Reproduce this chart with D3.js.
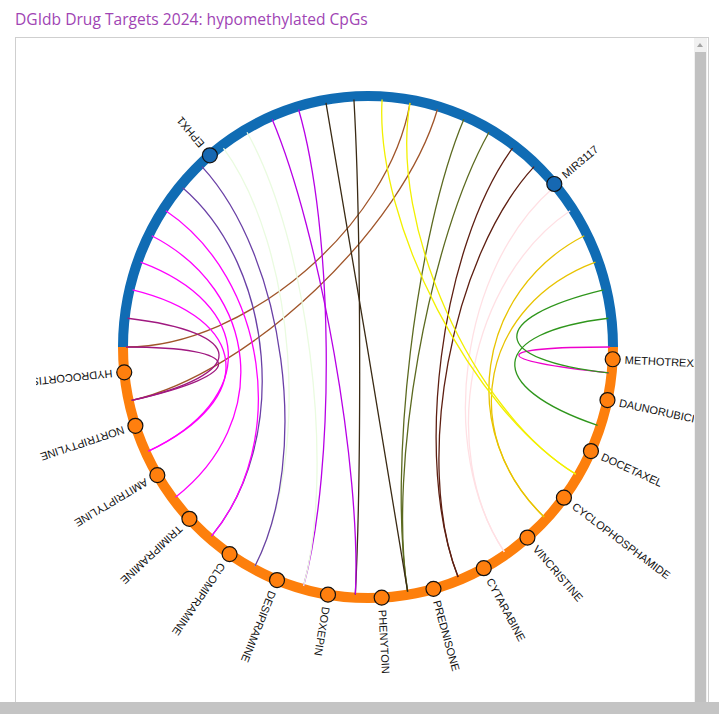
<!DOCTYPE html>
<html>
<head>
<meta charset="UTF-8">
<title>DGIdb Drug Targets 2024</title>
<script src="https://cdn.jsdelivr.net/npm/d3@7"></script>
<style>
    body{
        margin:0;
        background:#fff;
    }
    #titulo{
        position:absolute;
        left:15px;
        top:8px;
        font-family:"Open Sans", sans-serif;
        font-size:15.6px;
        color:#a044b4;
    }
    #marco{
        position:absolute;
        left:15px;
        top:37px;
        width:692px;
        height:690px;
        border:1px solid #cfcfcf;
        overflow:hidden;
        background:#fff;
    }
    #grafico{
        position:absolute;
        left:20px;
        top:0;
    }
    #vbar{
        position:absolute;
        left:678px;
        top:0;
        width:13px;
        height:100%;
        background:#f1f1f1;
    }
    #vthumb{
        position:absolute;
        left:1px;
        top:14px;
        width:11px;
        bottom:0;
        background:#c1c1c1;
    }
    #vup{
        position:absolute;
        left:3px;
        top:5px;
        width:0;height:0;
        border-left:3px solid transparent;
        border-right:3px solid transparent;
        border-bottom:4px solid #a3a3a3;
    }
    #hbar{
        position:absolute;
        left:0;
        top:702px;
        width:719px;
        height:12px;
        background:#c4c4c4;
    }
    .etiqueta{
        font-family:"Liberation Sans", Arial, sans-serif;
        font-size:11px;
        fill:#111;
    }
</style>
</head>
<body>
<div id="titulo">DGIdb Drug Targets 2024: hypomethylated CpGs</div>
<div id="marco">
    <div id="grafico"></div>
    <div id="vbar"><div id="vup"></div><div id="vthumb"></div></div>
</div>
<div id="hbar"></div>

<script>
// drugs (lower half), clockwise from the right
var drugs = ["METHOTREXATE","DAUNORUBICIN","DOCETAXEL","CYCLOPHOSPHAMIDE","VINCRISTINE",
             "CYTARABINE","PREDNISONE","PHENYTOIN","DOXEPIN","DESIPRAMINE",
             "CLOMIPRAMINE","TRIMIPRAMINE","AMITRIPTYLINE","NORTRIPTYLINE","HYDROCORTISONE"];
// node position of each drug, degrees below the horizontal
var drugPos = [2.8, 12.2, 24.5, 36.9, 49.4, 61.8, 74.5, 86.8, 99.4, 111.8, 124.4, 136.8, 149.3, 161.7, 174.2];

// genes (upper half), degrees above the horizontal
var genes = ["EPHX1", "MIR3117"];
var genePos = [130.2, 40.5];

// 28 CpG slots spread over the upper half (slot 0 = right, 27 = left)
var nCpG = 28;
// links: [CpG slot, drug index]
var links = [
    [0,0],[1,1],[2,0],[3,3],[4,3],[5,4],[6,4],[7,5],[8,5],[9,6],
    [10,6],[11,13],[12,14],[12,2],[13,2],[14,7],[15,6],[16,8],[17,7],[18,8],
    [19,9],[20,9],[21,10],[22,10],[23,11],[24,12],[25,12],[26,13],[27,13]
];
// colour of each link, same order as links
var linkColors = [
    "#ee00cc","#2f961c","#2f961c","#e8c300","#e8c300","#ffe0e4","#ffe0e4","#5e1f12","#5e1f12","#5c6a20",
    "#5c6a20","#a0552a","#a0552a","#f2f000","#f2f000","#3a2a14","#3a2a14","#b800e6","#b800e6","#eafbe0",
    "#eafbe0","#6a40a6","#6a40a6","#ff00ff","#ff00ff","#ff00ff","#ff00ff","#a01880","#a01880"
];

var w = 660;
var h = 690;
var cx = 332, cy = 309;
var R = 245;
var ky = 251 / 245;   // the ring is a little taller than wide

var rad = Math.PI / 180;

// CpG slots -> angle (0 at the right, going over the top)
var cpgScale = d3.scaleLinear()
    .domain([0, nCpG - 1])
    .range([0, -Math.PI]);
// drug link ends -> angle (lower half)
var drugLinkScale = d3.scaleLinear()
    .domain([0, drugs.length - 1])
    .range([6 * rad, 180 * rad]);

var svg = d3.select("#grafico")
    .append("svg")
    .attr("width", w)
    .attr("height", h);

// scaled group for ring and links
var g = svg.append("g")
    .attr("transform", "translate(" + cx + "," + cy + ") scale(1," + ky + ")");

var arco = d3.arc()
    .innerRadius(R - 5)
    .outerRadius(R + 5);

g.append("path")
    .attr("d", arco({startAngle: -Math.PI / 2, endAngle: Math.PI / 2}))
    .attr("fill", "#106cb4");
g.append("path")
    .attr("d", arco({startAngle: Math.PI / 2, endAngle: 3 * Math.PI / 2}))
    .attr("fill", "#fd7f0c");

var rl = R - 3;
function enlace(d){
    var a0 = cpgScale(d[0]);
    var a1 = drugLinkScale(d[1]);
    var p = d3.path();
    p.moveTo(rl * Math.cos(a0), rl * Math.sin(a0));
    p.bezierCurveTo(rl / 2 * Math.cos(a0), rl / 2 * Math.sin(a0),
                    rl / 2 * Math.cos(a1), rl / 2 * Math.sin(a1),
                    rl * Math.cos(a1), rl * Math.sin(a1));
    return p.toString();
}

g.selectAll("path.enlace")
    .data(links)
    .enter()
    .append("path")
    .attr("class", "enlace")
    .attr("d", enlace)
    .attr("fill", "none")
    .attr("stroke", function(d, i){ return linkColors[i]; })
    .attr("stroke-width", 1.3);

// nodes and labels, unscaled
var gn = svg.append("g")
    .attr("transform", "translate(" + cx + "," + cy + ")");

var nodos = drugs.map(function(n, i){ return {name: n, ang: drugPos[i], fill: "#ff7f0e"}; })
    .concat(genes.map(function(n, i){ return {name: n, ang: -genePos[i], fill: "#1668b2"}; }));

gn.selectAll("circle")
    .data(nodos)
    .enter()
    .append("circle")
    .attr("cx", function(d){ return R * Math.cos(d.ang * rad); })
    .attr("cy", function(d){ return R * ky * Math.sin(d.ang * rad); })
    .attr("r", 7.5)
    .attr("fill", function(d){ return d.fill; })
    .attr("stroke", "#111")
    .attr("stroke-width", 1.2);

gn.selectAll("text")
    .data(nodos)
    .enter()
    .append("text")
    .text(function(d){ return d.name; })
    .attr("transform", function(d){
        var x = (R + 12) * Math.cos(d.ang * rad);
        var y = (R + 12) * ky * Math.sin(d.ang * rad);
        return "translate(" + x + "," + y + ") rotate(" + d.ang + ")";
    })
    .attr("dy", "0.35em")
    .classed("etiqueta", true);
</script>
</body>
</html>
